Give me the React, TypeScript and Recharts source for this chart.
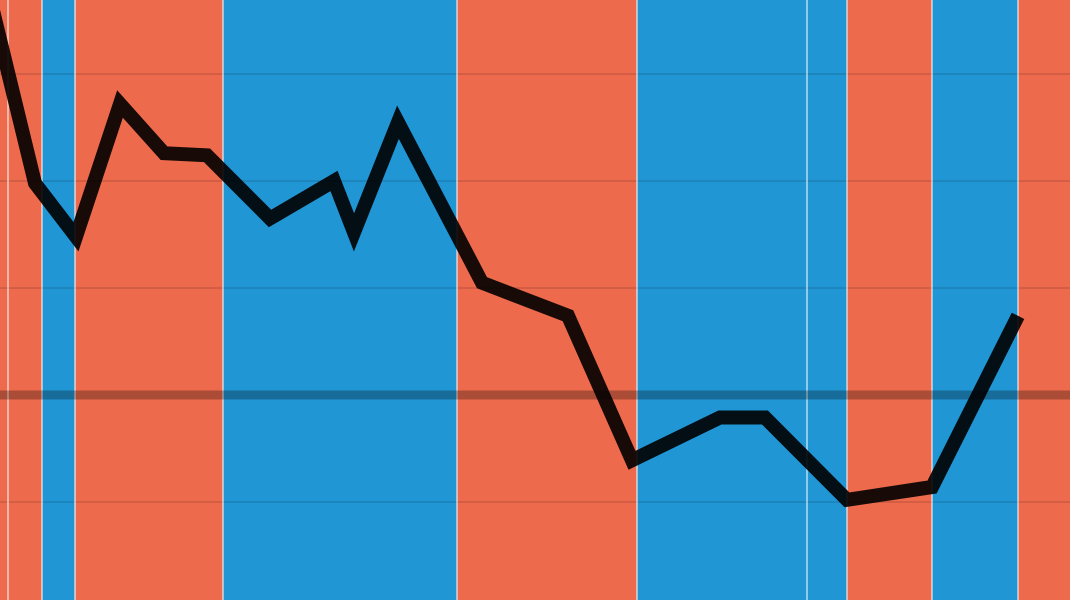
import React from "react";
import { ComposedChart, Line, XAxis, YAxis, ReferenceArea, ReferenceLine } from "recharts";

const RED = "#EE6A4D";
const BLUE = "#2196D5";

// Shaded periods (start, end, party colour)
const bandStarts = [-20, 8, 42, 75, 223, 457, 637, 807, 847, 932, 1018];
const bandEnds = [8, 42, 75, 223, 457, 637, 807, 847, 932, 1018, 1100];
const bandParty = ["R", "R", "D", "R", "D", "R", "D", "D", "R", "D", "R"];

// Boundaries between periods
const boundaries = [8, 42, 75, 223, 457, 637, 807, 847, 932, 1018];

// Series values
const times = [-15, 35, 76, 120, 164, 207, 270, 334, 354, 398, 482, 568, 632, 720, 765, 847, 932, 1018];
const values = [39.0, 19.8, 14.8, 27.2, 22.6, 22.4, 16.5, 20.0, 15.2, 25.5, 10.5, 7.4, -6.1, -2.1, -2.1, -9.8, -8.6, 7.4];

// Horizontal grid levels
const gridTicks = [-10, 10, 20, 30];
const baseline = 0;

const data = times.map((t, i) => ({ t, v: values[i] }));

export default function App() {
  return (
    <div style={{ position: "fixed", left: 0, top: 0, width: 1070, height: 600 }}>
      <ComposedChart width={1070} height={600} data={data} margin={{ top: 0, right: 0, bottom: 0, left: 0 }}>
        <XAxis dataKey="t" type="number" domain={[0, 1070]} hide allowDataOverflow />
        <YAxis type="number" domain={[-19.16, 36.92]} hide allowDataOverflow />
        {bandStarts.map((s, i) => (
          <ReferenceArea
            key={"b" + i}
            x1={s}
            x2={bandEnds[i]}
            fill={bandParty[i] === "R" ? RED : BLUE}
            fillOpacity={1}
            stroke="none"
            ifOverflow="hidden"
          />
        ))}
        {gridTicks.map((g) => (
          <ReferenceLine key={"g" + g} y={g} stroke="#000" strokeOpacity={0.22} strokeWidth={1} />
        ))}
        {boundaries.map((b) => (
          <ReferenceLine key={"w" + b} x={b} stroke="#fff" strokeOpacity={0.85} strokeWidth={1.2} />
        ))}
        <ReferenceLine y={baseline} stroke="#000" strokeOpacity={0.28} strokeWidth={9} />
        <Line
          dataKey="v"
          type="linear"
          stroke="#000"
          strokeOpacity={0.9}
          strokeWidth={14}
          dot={false}
          activeDot={false}
          isAnimationActive={false}
        />
      </ComposedChart>
    </div>
  );
}
